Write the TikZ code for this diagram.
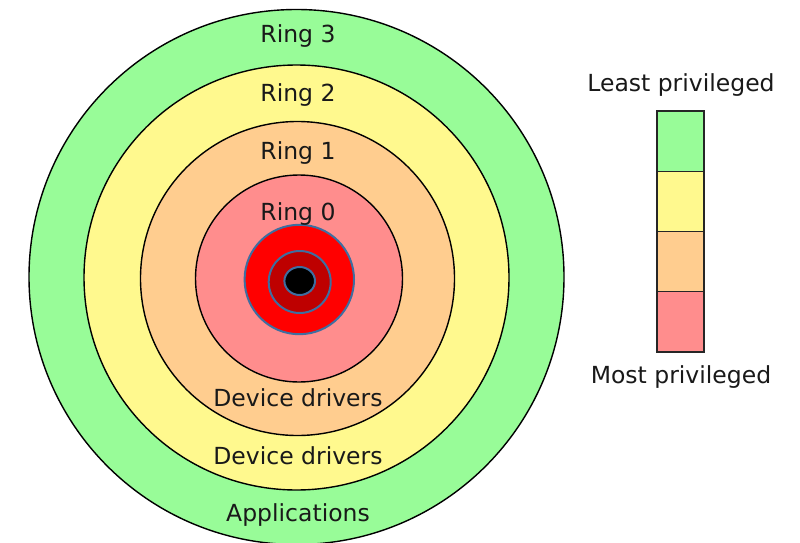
\documentclass[tikz,border=0pt]{standalone}
\usepackage{fontspec}
\setmainfont{DejaVu Sans}
\definecolor{rgreen}{RGB}{152,252,152}
\definecolor{ryellow}{RGB}{255,249,142}
\definecolor{rorange}{RGB}{255,205,143}
\definecolor{rpink}{RGB}{255,141,141}
\definecolor{rred}{RGB}{255,0,0}
\definecolor{rdark}{RGB}{190,0,0}
\definecolor{rblue}{RGB}{62,110,160}
\tikzset{
  ring/.style={draw=black,line width=1.4pt},
  core/.style={draw=rblue,line width=2pt},
  lbl/.style={anchor=base,inner sep=0pt,font=\fontsize{23.5}{26}\selectfont,text=black!90},
  legbox/.style={draw=black!85,line width=1.3pt,minimum width=47pt,minimum height=60.25pt,inner sep=0pt,outer sep=0pt,anchor=north}
}
\begin{document}
\begin{tikzpicture}[x=1pt,y=-1pt]
\useasboundingbox (0,0) rectangle (800,543);
\begin{scope}
\clip (0,0) rectangle (800,543);
\fill[white] (0,0) rectangle (800,543);
\draw[ring,fill=rgreen] (296.5,277) circle[radius=267.5];
\draw[ring,fill=ryellow] (296.5,277.5) circle[radius=212.5];
\draw[ring,fill=rorange] (297.5,278.5) circle[radius=157];
\draw[ring,fill=rpink] (299,278.5) circle[radius=103.5];
\draw[core,fill=rred] (299.3,279.5) circle[radius=54.7];
\draw[core,fill=rdark] (299.7,282) circle[radius=31];
\draw[core,fill=black] (299.7,281) circle[x radius=15.3,y radius=14];
\end{scope}
\node[lbl] (r3) at (298,43) {Ring 3};
\node[lbl] (r2) at (298,101) {Ring 2};
\node[lbl] (r1) at (298,159) {Ring 1};
\node[lbl] (r0) at (298,220) {Ring 0};
\node[lbl] (dd1) at (298,406) {Device drivers};
\node[lbl] (dd2) at (298,464) {Device drivers};
\node[lbl] (app) at (298,521) {Applications};
\node[legbox,fill=rgreen] (l3) at (680.5,111) {};
\node[legbox,fill=ryellow] (l2) at (l3.south) {};
\node[legbox,fill=rorange] (l1) at (l2.south) {};
\node[legbox,fill=rpink] (l0) at (l1.south) {};
\node[lbl] (least) at (681,92) {Least privileged};
\node[lbl] (most) at (681,383) {Most privileged};
\end{tikzpicture}
\end{document}
